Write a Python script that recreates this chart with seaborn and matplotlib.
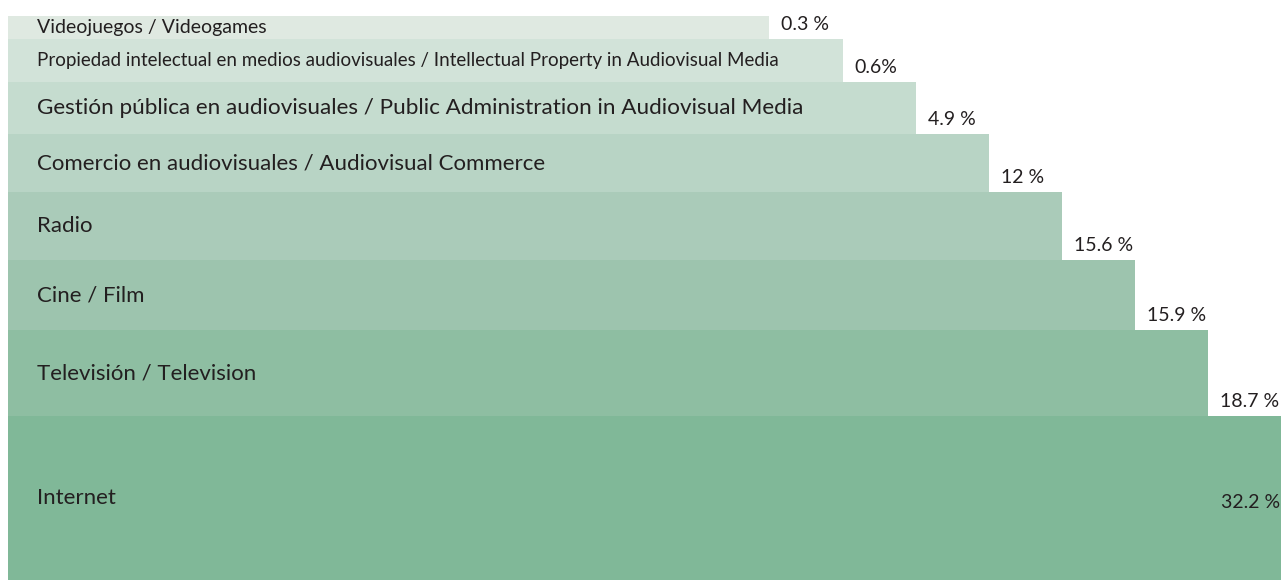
import numpy as np
import pandas as pd
import matplotlib
matplotlib.use("Agg")
import matplotlib.pyplot as plt
import seaborn as sns

# ---- data ----
categories = [
    "Videojuegos / Videogames",
    "Propiedad intelectual en medios audiovisuales / Intellectual Property in Audiovisual Media",
    "Gestión pública en audiovisuales / Public Administration in Audiovisual Media",
    "Comercio en audiovisuales / Audiovisual Commerce",
    "Radio",
    "Cine / Film",
    "Televisión / Television",
    "Internet",
]
shares = [0.3, 0.6, 4.9, 12.0, 15.6, 15.9, 18.7, 32.2]
share_labels = ["0.3 %", "0.6%", "4.9 %", "12 %", "15.6 %", "15.9 %", "18.7 %", "32.2 %"]

# ---- layout / style (not data) ----
band_px = [23, 43, 52, 58, 68, 70, 86, 164]      # row heights of the staircase
base_len, step_len = 10.42, 1.0                  # bar length = base + rank * step
colors = ["#dfe9e1", "#d2e3d9", "#c5dccf", "#b8d4c5",
          "#aacbb9", "#9dc4ae", "#8ebea2", "#80b898"]
text_col = "#231f20"
label_sizes = [14, 13.5, 16.2, 16, 16, 16, 16, 16]

sns.set_style("white")
plt.rcParams["font.family"] = ["Lato", "DejaVu Sans"]

# staircase: length follows the rank of each share
rank = np.argsort(np.argsort(shares))
df = pd.DataFrame({
    "category": categories,
    "length": base_len + rank * step_len,
    "label": share_labels,
})

fig = plt.figure(figsize=(12.81, 5.80), dpi=100)
ax = fig.add_axes([8 / 1281, 0, 1273 / 1281, 564 / 580])

sns.barplot(data=df, y="category", x="length", hue="category",
            palette=colors, orient="h", width=1.0, legend=False,
            saturation=1, ax=ax)

# give each row its own height
tops = np.concatenate([[0], np.cumsum(band_px)[:-1]])
for patch, top, h in zip(ax.patches, tops, band_px):
    patch.set_y(top)
    patch.set_height(h)
    patch.set_edgecolor("none")

total = sum(band_px)
xmax = base_len + (len(categories) - 1) * step_len
ax.set_xlim(0, xmax)
ax.set_ylim(total, 0)
ax.axis("off")

px = xmax / 1273  # one pixel in x data units
for i, row in df.iterrows():
    mid = tops[i] + band_px[i] / 2
    ax.text(29 * px, mid, row["category"], va="center", ha="left",
            fontsize=label_sizes[i], color=text_col)
    if i < len(df) - 1:
        ax.text(row["length"] + 12 * px, tops[i] + band_px[i] - 6, row["label"],
                va="bottom", ha="left", fontsize=14, color=text_col)
    else:
        ax.text(row["length"] - 1 * px, mid + 4, row["label"], va="center", ha="right",
                fontsize=14, color=text_col)

fig.savefig("out.png", dpi=100, facecolor="white")
